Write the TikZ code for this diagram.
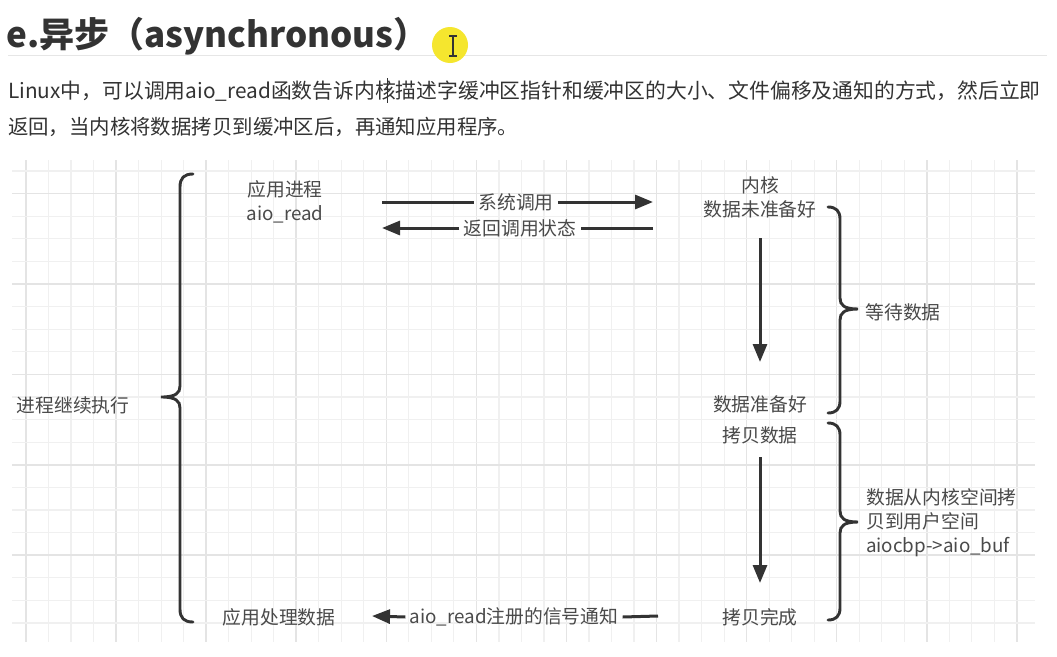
\documentclass[tikz,border=0pt]{standalone}
\usepackage{fontspec}
\setmainfont{Noto Sans CJK SC}
\usetikzlibrary{arrows.meta}
\definecolor{txt}{HTML}{333333}
\definecolor{dtxt}{HTML}{4A4A4A}
\definecolor{gridminor}{HTML}{F0F0F0}
\definecolor{gridmajor}{HTML}{E4E4E4}
\definecolor{cursorc}{HTML}{F5E62E}
\definecolor{rulec}{HTML}{E6E6E6}
\tikzset{
  minorline/.style={draw=gridminor, line width=1.2pt},
  majorline/.style={draw=gridmajor, line width=1.5pt},
  dtext/.style={text=dtxt, inner sep=0pt, font=\fontsize{18.8}{24}\selectfont},
  lbl/.style={dtext, inner xsep=4pt},
  conn/.style={draw=txt, line width=3pt},
  arr/.style={conn, -{Triangle[length=18pt,width=14pt]}},
  bracec/.style={draw=txt, line width=2.9pt, line cap=round},
  para/.style={text=txt, inner sep=0pt, anchor=west}
}
\begin{document}
\begin{tikzpicture}[x=1pt,y=-1pt]
\useasboundingbox (0,0) rectangle (1057,656);
\fill[white] (0,0) rectangle (1057,656);
% grid
\foreach \k in {0,...,44}{
  \pgfmathsetmacro\xx{26+22.52*\k}
  \pgfmathtruncatemacro\m{mod(\k,4)}
  \ifnum\m=0 \draw[majorline] (\xx,160) -- (\xx,642);
  \else \draw[minorline] (\xx,160) -- (\xx,642); \fi
}
\foreach \j in {0,...,20}{
  \pgfmathsetmacro\yy{171+22.6*\j}
  \pgfmathtruncatemacro\m{mod(\j,4)}
  \ifnum\m=1 \draw[majorline] (12,\yy) -- (1035,\yy);
  \else \draw[minorline] (12,\yy) -- (1035,\yy); \fi
}
% header
\draw[rulec, line width=1pt] (8,55) -- (1047,55);
\node[text=txt, inner sep=0pt, anchor=west, font=\fontsize{35}{40}\selectfont\bfseries] (title) at (6,36) {e.异步（asynchronous）};
\fill[cursorc] (450,45) circle (18);
\draw[txt, line width=1.6pt] (453,36) -- (453,56) (449,36) -- (457,36) (449,56) -- (457,56);
\node[para, font=\fontsize{20.8}{24}\selectfont] (p1) at (8,91) {Linux中，可以调用aio\_read函数告诉内核描述字缓冲区指针和缓冲区的大小、文件偏移及通知的方式，然后立即};
\node[para, font=\fontsize{20.4}{24}\selectfont] (p2) at (8,127) {返回，当内核将数据拷贝到缓冲区后，再通知应用程序。};
\draw[txt, line width=1pt] (387,78) -- (387,103);
% diagram texts
\node[dtext, align=center] (app) at (285,201.5) {应用进程\\aio\_read};
\node[dtext, align=center] (kern) at (760,197.5) {内核\\数据未准备好};
\node[dtext] (ready) at (760,404) {数据准备好};
\node[dtext] (copy) at (760,435) {拷贝数据};
\node[dtext] (done) at (760,617) {拷贝完成};
\node[dtext] (proc) at (279,617) {应用处理数据};
\node[dtext] (cont) at (73,405) {进程继续执行};
\node[dtext] (wait) at (903,312) {等待数据};
\node[dtext, align=left, anchor=west] (cpy) at (866,523) {数据从内核空间拷\\贝到用户空间\\aiocbp->aio\_buf};
% horizontal arrows
\coordinate (s1) at (382,202); \coordinate (e1) at (653,202);
\node[lbl] (l1) at (516,202) {系统调用};
\draw[conn] (s1) -- (l1.west);
\draw[arr] (l1.east) -- (e1);
\coordinate (s2) at (653,228); \coordinate (e2) at (382,228);
\node[lbl] (l2) at (520,228) {返回调用状态};
\draw[conn] (s2) -- (l2.east);
\draw[arr] (l2.west) -- (e2);
\coordinate (s3) at (658,616); \coordinate (e3) at (372,616);
\node[lbl] (l3) at (514,617) {aio\_read注册的信号通知};
\draw[conn] (s3) -- (l3.east);
\draw[arr] (l3.west) -- (e3);
% vertical arrows
\coordinate (d1s) at (760,238); \coordinate (d1e) at (760,362);
\draw[arr] (d1s) -- (d1e);
\coordinate (d2s) at (760,457); \coordinate (d2e) at (760,583);
\draw[arr] (d2s) -- (d2e);
% braces
\draw[bracec] (193,174) .. controls (184,174) and (180,178) .. (180,187)
  -- (180,386) .. controls (180,393) and (176,397) .. (161,397)
  .. controls (176,397) and (180,401) .. (180,408)
  -- (180,609) .. controls (180,618) and (184,622) .. (193,622);
\draw[bracec] (828,207) .. controls (836,207) and (840,211) .. (840,219)
  -- (840,298) .. controls (840,305) and (844,309) .. (858,309)
  .. controls (844,309) and (840,313) .. (840,320)
  -- (840,401) .. controls (840,409) and (836,413) .. (828,413);
\draw[bracec] (828,423) .. controls (836,423) and (840,427) .. (840,435)
  -- (840,511) .. controls (840,518) and (844,522) .. (858,522)
  .. controls (844,522) and (840,526) .. (840,533)
  -- (840,608) .. controls (840,616) and (836,620) .. (828,620);
\end{tikzpicture}
\end{document}
